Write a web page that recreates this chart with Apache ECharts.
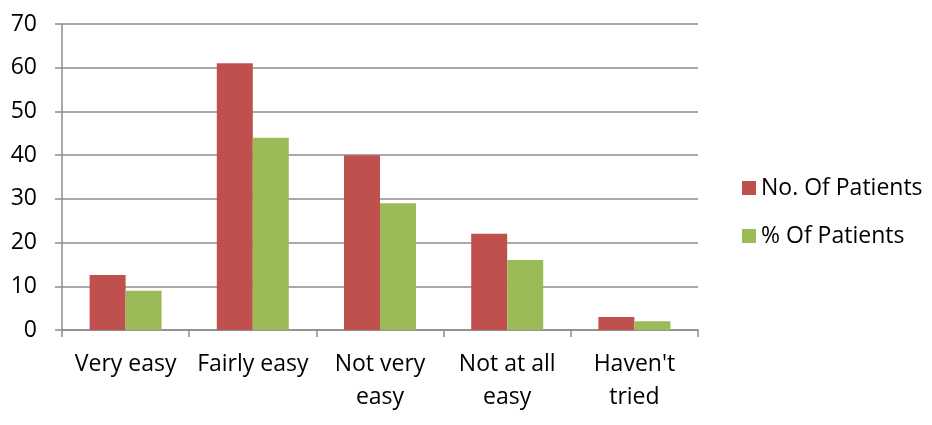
<!DOCTYPE html>
<html><head><meta charset="utf-8">
<script src="https://cdn.jsdelivr.net/npm/echarts@6/dist/echarts.min.js"></script>
<style>html,body{margin:0;padding:0;background:#fff}#c{width:932px;height:425px}</style>
</head><body><div id="c"></div>
<script>
const categories = ["Very easy", "Fairly easy", "Not very\neasy", "Not at all\neasy", "Haven't\ntried"];
const seriesNames = ["No. Of Patients", "% Of Patients"];
const noOfPatients = [12.6, 61, 40, 22, 3];
const pctOfPatients = [9, 44, 29, 16, 2];
const yTicks = {min: 0, max: 70, interval: 10};

const font = "Open Sans";
const fs = 23;
const chart = echarts.init(document.getElementById('c'));
chart.setOption({
  animation: false,
  textStyle: {fontFamily: font},
  grid: {left: 62, right: 234, top: 24, bottom: 95, containLabel: false},
  legend: {
    orient: 'vertical', left: 737, top: 171, itemWidth: 14, itemHeight: 14, itemGap: 24,
    icon: 'rect', padding: 5,
    textStyle: {fontFamily: font, fontSize: fs, color: '#000', lineHeight: 24},
    data: seriesNames
  },
  xAxis: {
    type: 'category', data: categories,
    axisLine: {lineStyle: {color: '#8c8c8c', width: 1.5}},
    axisTick: {show: true, length: 7, alignWithLabel: false, lineStyle: {color: '#8c8c8c', width: 1.5}},
    axisLabel: {color: '#000', fontSize: fs, fontFamily: font, margin: 18, lineHeight: 33, interval: 0}
  },
  yAxis: {
    type: 'value', min: yTicks.min, max: yTicks.max, interval: yTicks.interval,
    axisLine: {show: true, lineStyle: {color: '#8c8c8c', width: 1.5}},
    axisTick: {show: true, length: 7, lineStyle: {color: '#8c8c8c', width: 1.5}},
    splitLine: {lineStyle: {color: '#8c8c8c', width: 1.5}},
    axisLabel: {color: '#000', fontSize: fs, fontFamily: font, margin: 25}
  },
  series: [
    {name: seriesNames[0], type: 'bar', data: noOfPatients, barWidth: 36, barGap: '0%', itemStyle: {color: '#C0504D'}},
    {name: seriesNames[1], type: 'bar', data: pctOfPatients, barWidth: 36, barGap: '0%', itemStyle: {color: '#9BBB59'}}
  ]
});
</script></body></html>
